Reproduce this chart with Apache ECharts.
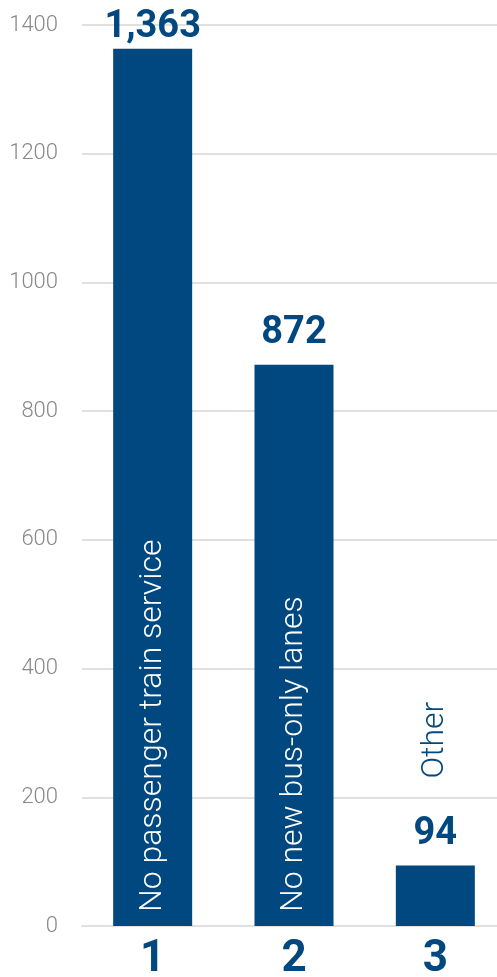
<!DOCTYPE html>
<html><head><meta charset="utf-8">
<script src="https://cdn.jsdelivr.net/npm/echarts@6/dist/echarts.min.js"></script>
<style>html,body{margin:0;padding:0;background:#fff;overflow:hidden}#c{width:497px;height:977px}</style>
</head><body><div id="c"></div>
<script>
const categories = ['1', '2', '3'];
const values = [1363, 872, 94];
const barNames = ['No passenger train service', 'No new bus-only lanes', 'Other'];
const yTicks = [0, 200, 400, 600, 800, 1000, 1200, 1400];

const BLUE = '#00487f';
const chart = echarts.init(document.getElementById('c'), null, {renderer: 'canvas', width: 497, height: 977});
const valueData = values.map((v, i) => ({value: v, label: {distance: i === 0 ? 2 : 12}}));
const nameData = values.map((v, i) => {
  const inside = i < 2;
  return {
    value: v,
    label: inside ? {
      position: 'insideBottom', distance: 14, rotate: 90, align: 'left', verticalAlign: 'middle',
      color: '#fff', formatter: barNames[i]
    } : {
      position: 'top', distance: 87, rotate: 90, align: 'left', verticalAlign: 'middle',
      color: BLUE, formatter: barNames[i]
    }
  };
});
chart.setOption({
  animation: false,
  grid: {left: 82, width: 424, top: 25, bottom: 51, containLabel: false, outerBoundsMode: 'none'},
  xAxis: {
    type: 'category', data: categories,
    axisLine: {show: true, lineStyle: {color: '#e0e0e0', width: 2}},
    axisTick: {show: false},
    axisLabel: {color: BLUE, fontFamily: 'Roboto', fontWeight: 'bold', fontSize: 44, margin: 12}
  },
  yAxis: {
    type: 'value', min: yTicks[0], max: yTicks[yTicks.length - 1], interval: 200,
    axisLine: {show: false}, axisTick: {show: false},
    splitLine: {lineStyle: {color: '#e0e0e0', width: 2}},
    axisLabel: {color: '#888', fontFamily: 'Roboto', fontWeight: 300, fontSize: 22, margin: 24,
      formatter: v => String(v)}
  },
  series: [{
    type: 'bar', data: valueData, barWidth: 79,
    itemStyle: {color: BLUE},
    label: {show: true, position: 'top', color: BLUE, fontFamily: 'Roboto', fontWeight: 'bold', fontSize: 38,
      formatter: p => p.value.toLocaleString('en-US')}
  }, {
    type: 'bar', data: nameData, barWidth: 79, barGap: '-100%',
    itemStyle: {color: 'rgba(0,0,0,0)'},
    label: {show: true, fontFamily: 'Roboto', fontWeight: 300, fontSize: 32}
  }]
});
</script></body></html>
